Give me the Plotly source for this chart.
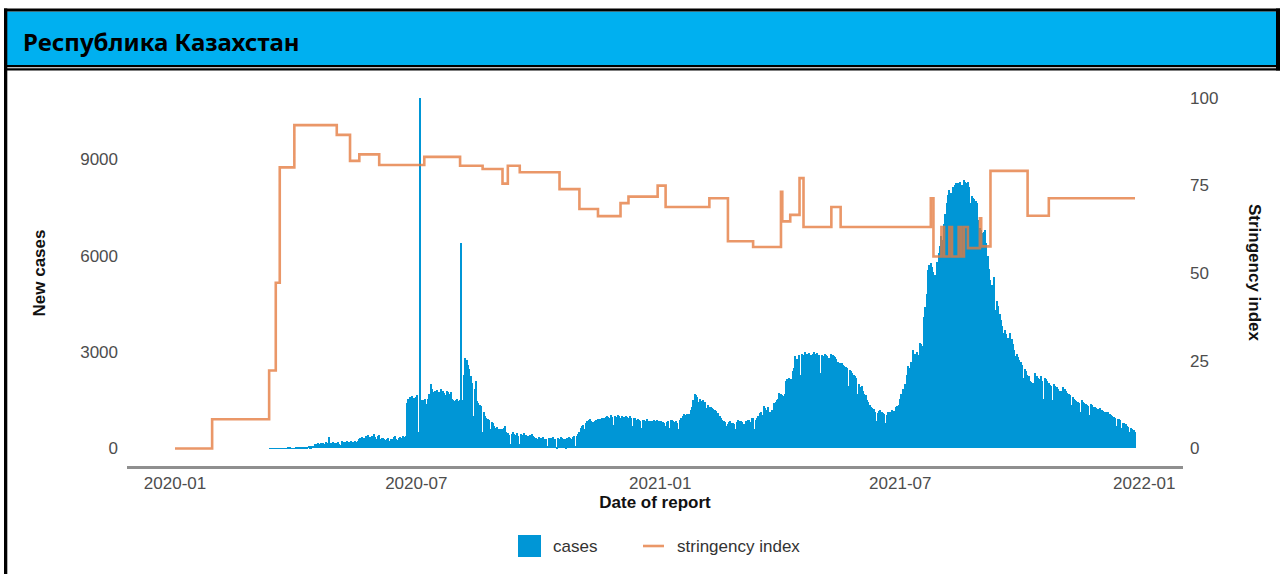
import pandas as pd
import plotly.graph_objects as go

# ---------------- DATA ----------------
# Daily new cases, consecutive days starting 2020-03-13,
# split into roughly monthly blocks.
cases_start = "2020-03-13"
cases_blk01 = [9, 3, 4, 3, 10, 14, 4, 4, 7, 2, 8, 9, 13, 44, 22, 18, 13, 13, 12, 32]
cases_blk02 = [45, 36, 57, 55, 49, 56, 44, 45, 53, 87, 54, 62, 78, 72, 125, 150, 160, 130, 170, 140,
               185, 150, 190, 176, 372, 150, 180, 200, 160, 180]
cases_blk03 = [170, 210, 150, 100, 230, 190, 210, 160, 230, 200, 180, 230, 190, 120, 220, 200, 230, 300,
               340, 360, 290, 330, 380, 250, 410, 350, 320, 390, 440, 370, 300]
cases_blk04 = [390, 420, 300, 340, 320, 280, 250, 300, 330, 236, 280, 300, 350, 380, 300, 260, 330, 360,
               340, 390, 370, 390, 1430, 1550, 1600, 1480, 1630, 1580, 1520, 1600, 1650]
cases_blk05 = [500, 10923, 1500, 1520, 1480, 1530, 1375, 1550, 1700, 2000, 1840, 1750, 1800, 1680, 1820,
               1760, 1700, 1840, 1790, 1720, 1650, 1800, 1750, 1690, 1760, 1530, 1500, 1480, 1510, 1530, 1490]
cases_blk06 = [1500, 6400, 1500, 2300, 2820, 2750, 2600, 2460, 2250, 2050, 1010, 1850, 2100, 1480, 1400,
               1350, 1320, 500, 1150, 1000, 950, 920, 900, 600, 820, 780, 700, 650, 680, 620, 600]
cases_blk07 = [580, 610, 640, 700, 520, 480, 420, 150, 460, 500, 440, 410, 470, 390, 130, 450, 420, 480,
               400, 430, 380, 140, 410, 450, 390, 370, 340, 300, 110, 350, 320]
cases_blk08 = [330, 360, 310, 290, 70, 340, 300, 320, 350, 290, 310, 60, 330, 300, 350, 320, 290, 310, 60,
               340, 360, 330, 300, 350, 390, 80, 380, 450, 520, 650, 700]
cases_blk09 = [720, 600, 800, 850, 880, 910, 860, 830, 620, 870, 900, 910, 880, 920, 940, 700, 950, 980,
               1000, 990, 960, 1030, 990, 720, 1010, 980, 1030, 1000, 960, 1020, 750]
cases_blk10 = [980, 1010, 990, 960, 1000, 950, 700, 940, 960, 900, 920, 880, 860, 650, 900, 880, 870, 920,
               860, 840, 620, 850, 900, 870, 820, 880, 850, 640, 870, 830, 800]
cases_blk11 = [700, 820, 850, 640, 880, 900, 860, 830, 870, 790, 600, 900, 950, 1000, 1060, 1040, 1065, 900,
               1080, 1200, 1300, 1500, 1685, 1650, 1600, 1450, 1530, 1480, 1520, 1400, 1450]
cases_blk12 = [1250, 1350, 1300, 1280, 1250, 1220, 1200, 1180, 1000, 1100, 1010, 950, 900, 850, 820, 700,
               760, 820, 850, 800, 780, 750, 600, 820, 900, 860, 850, 830, 760]
cases_blk13 = [620, 850, 900, 880, 820, 960, 940, 600, 900, 950, 1010, 1100, 1150, 1050, 1320, 1250, 1200,
               1280, 1150, 1120, 1200, 1000, 1400, 1450, 1500, 1550, 1740, 1700, 1650, 1630, 1700]
cases_blk14 = [2100, 2150, 2180, 2050, 2150, 2400, 2500, 2870, 2800, 2770, 2900, 2300, 2950, 2920, 3000,
               2870, 2950, 2980, 2200, 2900, 2950, 3000, 2930, 2960, 2880, 2900, 2350, 2920, 2870, 2950, 2900]
cases_blk15 = [2880, 2820, 2150, 2950, 2900, 2870, 2850, 2800, 2700, 2200, 2650, 2670, 2600, 2580, 2550,
               2500, 1950, 2450, 2400, 2360, 2300, 2250, 2200, 1700, 2000, 1900, 1940, 1800, 1700, 1650, 1500]
cases_blk16 = [1450, 1350, 1300, 1250, 1220, 1150, 850, 1100, 1180, 1200, 1150, 1100, 1080, 800, 1050, 1120,
               1150, 1100, 1200, 1180, 850, 1300, 1320, 1350, 1530, 1700, 1840, 1600, 2000, 2300]
cases_blk17 = [2560, 2500, 2700, 2400, 3080, 2950, 2770, 3000, 2900, 3290, 3250, 3200, 4100, 4400, 4800,
               5560, 5700, 5770, 5650, 5500, 5400, 5050, 5800, 6080, 6300, 6600, 6500, 7000, 7300, 7630,
               7900, 8050]
cases_blk18 = [7950, 7120, 8150, 8200, 8250, 8180, 8250, 8300, 7430, 8200, 8350, 8300, 8250, 8280, 8150,
               7630, 7850, 7800, 7750, 7700, 7650, 7120, 6850, 6800, 6700, 6750, 6800, 6400, 6000, 5600, 5250]
cases_blk19 = [5100, 4900, 5350, 4320, 4600, 4420, 4200, 4000, 3800, 3600, 3700, 3550, 3450, 3300, 3600,
               3400, 3250, 3080, 2870, 2930, 2850, 2750, 2700, 2600, 2200, 2460, 2400, 2300, 2250, 2100, 2080]
cases_blk20 = [2050, 1630, 2350, 2250, 2200, 2150, 2250, 2100, 1530, 2200, 2150, 2100, 2050, 1980, 1950,
               1500, 2000, 1940, 1900, 1850, 1800, 1780, 1450, 1900, 1850, 1800, 1740, 1700, 1650, 1350, 1600]
cases_blk21 = [1530, 1500, 1480, 1450, 1420, 1150, 1500, 1450, 1400, 1380, 1350, 1320, 1050, 1375, 1340,
               1300, 1280, 1250, 1220, 950, 1250, 1200, 1180, 1150, 1120, 850, 1120, 1080, 1050, 1000]
cases_blk22 = [980, 950, 700, 920, 910, 880, 650, 800, 780, 750, 700, 680, 500, 650, 620, 580, 500]

case_blocks = [cases_blk01, cases_blk02, cases_blk03, cases_blk04, cases_blk05, cases_blk06, cases_blk07,
               cases_blk08, cases_blk09, cases_blk10, cases_blk11, cases_blk12, cases_blk13, cases_blk14,
               cases_blk15, cases_blk16, cases_blk17, cases_blk18, cases_blk19, cases_blk20, cases_blk21,
               cases_blk22]

# Stringency index: change points (step function)
stringency_dates = ["2020-01-01", "2020-01-29", "2020-03-12", "2020-03-17", "2020-03-20", "2020-03-31",
                    "2020-05-02", "2020-05-12", "2020-05-19", "2020-06-03", "2020-07-07", "2020-08-03",
                    "2020-08-20", "2020-09-04", "2020-09-08", "2020-09-17", "2020-10-17", "2020-11-01",
                    "2020-11-15", "2020-12-02", "2020-12-08", "2020-12-30", "2021-01-05", "2021-02-07",
                    "2021-02-21", "2021-03-12", "2021-04-02", "2021-04-03", "2021-04-09", "2021-04-16",
                    "2021-04-19", "2021-05-10", "2021-05-17", "2021-07-24", "2021-07-26", "2021-08-01",
                    "2021-08-03", "2021-08-07", "2021-08-09", "2021-08-14", "2021-08-16", "2021-08-18",
                    "2021-08-21", "2021-08-30", "2021-08-31", "2021-09-07", "2021-10-05", "2021-10-21",
                    "2021-12-25"]
stringency_values = [0, 8.33, 22.22, 47.22, 80.09, 92.13, 89.35, 81.94, 83.8, 80.79, 83.1, 80.56,
                     79.63, 75.46, 80.56, 78.7, 73.91, 68.24, 66.2, 69.91, 71.76, 74.91, 68.8, 71.3,
                     59.03, 57.41, 73.15, 64.72, 66.57, 77.04, 63.1, 68.8, 63.1, 71.3, 54.72, 63.1,
                     54.72, 63.1, 54.72, 63.1, 54.72, 63.1, 57.1, 65.6, 57.6, 79.1, 66.3, 71.3, 71.3]

y_left_ticks = [0, 3000, 6000, 9000]
y_right_ticks = [0, 25, 50, 75, 100]
x_tick_labels = ["2020-01", "2020-07", "2021-01", "2021-07", "2022-01"]

title_text = "Республика Казахстан"
# --------------------------------------

cases = [v for blk in case_blocks for v in blk]
dates = pd.date_range(cases_start, periods=len(cases), freq="D")

s_dates = pd.to_datetime(stringency_dates)

# figure geometry (pixels)
W, H = 1280, 574
L, R, T, B = 127, 1183, 80, 466
pw, ph = R - L, B - T


def px(x):
    return (x - L) / pw


def py(y):
    return (B - y) / ph


# axis ranges with 5% expansion like the original
x0, x1 = s_dates.min(), s_dates.max()
span = x1 - x0
xr = [x0 - span * 0.05, x1 + span * 0.05]
cmax = max(cases)
y1r = [-0.05 * cmax, 1.05 * cmax]
scale = cmax / 100.0
y2r = [y1r[0] / scale, y1r[1] / scale]

BLUE = "#0096D6"
ORANGE = "rgba(228,122,62,0.78)"
FONT = "Liberation Sans, Arial, sans-serif"

fig = go.Figure()
fig.add_trace(go.Bar(x=dates, y=cases, marker=dict(color=BLUE, line=dict(width=0)),
                     name="cases", showlegend=False))
fig.add_trace(go.Scatter(x=s_dates, y=stringency_values, mode="lines", line_shape="hv",
                         line=dict(color=ORANGE, width=2.6), name="stringency index",
                         yaxis="y2", showlegend=False))

tickvals_x = pd.to_datetime([t + "-01" for t in x_tick_labels])

fig.update_layout(
    width=W, height=H,
    margin=dict(l=L, r=W - R, t=T, b=H - B, pad=0),
    paper_bgcolor="white", plot_bgcolor="white",
    bargap=0,
    font=dict(family=FONT, size=17, color="#4d4d4d"),
    xaxis=dict(range=xr, type="date", tickvals=tickvals_x, ticktext=x_tick_labels,
               showgrid=False, zeroline=False, showline=True, linecolor="#8f8f8f", linewidth=3,
               ticks="", ticklabelstandoff=0,
               title=dict(text="<b>Date of report</b>", font=dict(size=17, color="#111111"), standoff=0)),
    yaxis=dict(range=y1r, tickvals=y_left_ticks, showgrid=False, zeroline=False, showline=False,
               ticks="", ticklabelstandoff=8,
               title=dict(text="<b>New cases</b>", font=dict(size=17, color="#111111"), standoff=30)),
    yaxis2=dict(range=y2r, tickvals=y_right_ticks, overlaying="y", side="right", showgrid=False,
                zeroline=False, showline=False, ticks="", ticklabelstandoff=6),
)

shapes = []
# header bar and frame
shapes.append(dict(type="rect", xref="paper", yref="paper", x0=px(7), x1=px(1276), y0=py(65), y1=py(11.5),
                   fillcolor="#00B0F0", line=dict(width=0), layer="below"))
shapes.append(dict(type="rect", xref="paper", yref="paper", x0=px(4), x1=px(1280), y0=py(11.5), y1=py(8.5),
                   fillcolor="black", line=dict(width=0)))
shapes.append(dict(type="rect", xref="paper", yref="paper", x0=px(4), x1=px(1280), y0=py(67.3), y1=py(65),
                   fillcolor="black", line=dict(width=0)))
shapes.append(dict(type="rect", xref="paper", yref="paper", x0=px(4), x1=px(1280), y0=py(70.5), y1=py(68.3),
                   fillcolor="black", line=dict(width=0)))
shapes.append(dict(type="rect", xref="paper", yref="paper", x0=px(4), x1=px(7.3), y0=py(574), y1=py(8.5),
                   fillcolor="black", line=dict(width=0)))
shapes.append(dict(type="rect", xref="paper", yref="paper", x0=px(1276), x1=px(1280), y0=py(70.5), y1=py(8.5),
                   fillcolor="black", line=dict(width=0)))
# legend keys
shapes.append(dict(type="rect", xref="paper", yref="paper", x0=px(518), x1=px(541), y0=py(557), y1=py(535),
                   fillcolor=BLUE, line=dict(width=0)))
shapes.append(dict(type="line", xref="paper", yref="paper", x0=px(643), x1=px(664), y0=py(546), y1=py(546),
                   line=dict(color=ORANGE, width=2.6)))

annotations = [
    dict(text="<b>" + title_text + "</b>", xref="paper", yref="paper", x=px(21), y=py(41),
         xanchor="left", yanchor="middle", showarrow=False,
         font=dict(family="Noto Sans, Open Sans, sans-serif", size=24, color="black")),
    dict(text="<b>Stringency index</b>", xref="paper", yref="paper", x=px(1255), y=py(273),
         xanchor="center", yanchor="middle", textangle=90, showarrow=False,
         font=dict(family=FONT, size=17, color="#111111")),
    dict(text="cases", xref="paper", yref="paper", x=px(551), y=py(546), xanchor="left", yanchor="middle",
         showarrow=False, font=dict(family=FONT, size=17, color="#333333")),
    dict(text="stringency index", xref="paper", yref="paper", x=px(675), y=py(546), xanchor="left",
         yanchor="middle", showarrow=False, font=dict(family=FONT, size=17, color="#333333")),
]

fig.update_layout(shapes=shapes, annotations=annotations)
fig.write_html("out.html", config={"displayModeBar": False},
               post_script="document.body.style.margin='0px';")
